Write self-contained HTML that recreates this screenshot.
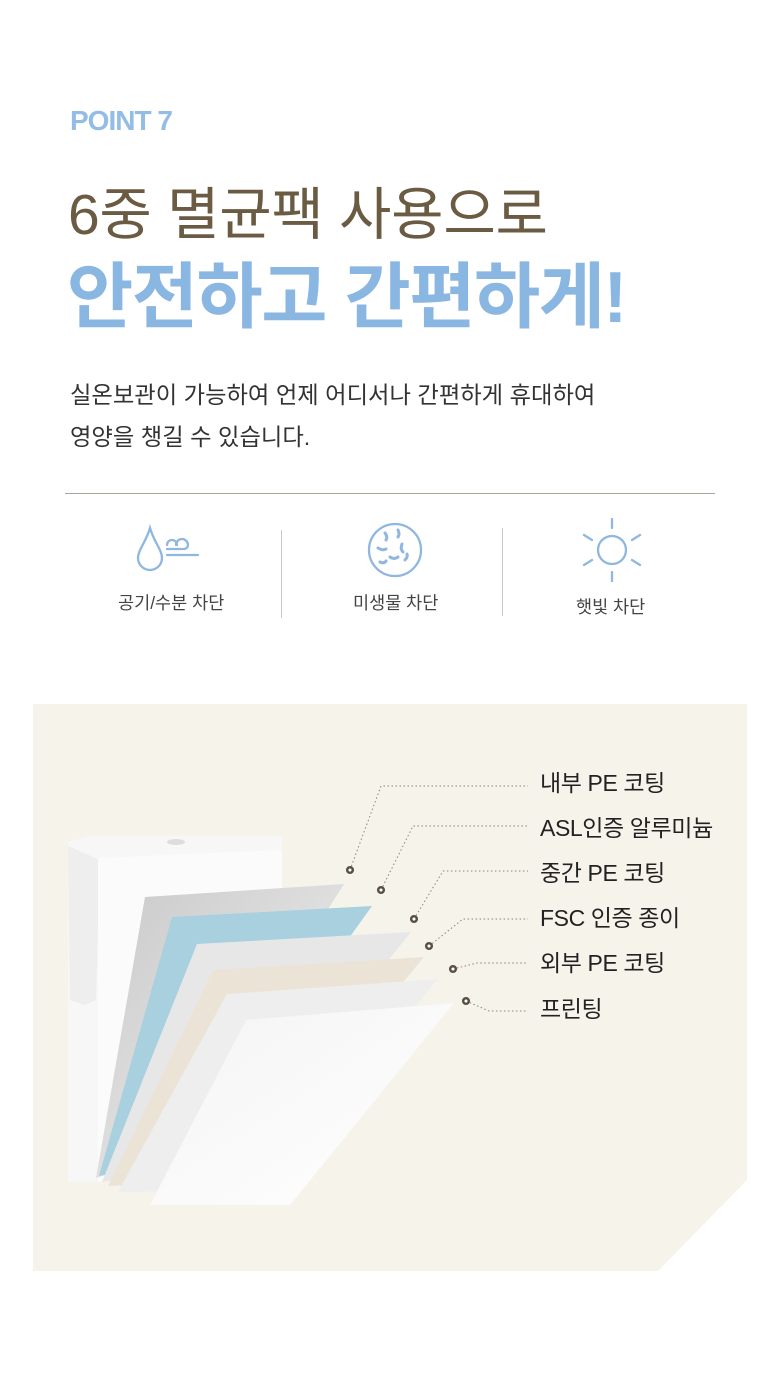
<!DOCTYPE html>
<html><head><meta charset="utf-8">
<style>
html,body{margin:0;padding:0;background:#fff;}
body{width:780px;height:1393px;position:relative;overflow:hidden;font-family:"Liberation Sans","Noto Sans CJK KR",sans-serif;}
.t{position:absolute;white-space:nowrap;}
</style></head><body>
<div class="t" style="left:70px;top:104px;font-size:28px;font-weight:bold;color:#93bde6;letter-spacing:-1px;line-height:34px;">POINT 7</div>
<div class="t" style="left:68px;top:181px;font-size:57px;color:#6b5b42;line-height:68px;letter-spacing:-0.3px;">6중 멸균팩 사용으로</div>
<div class="t" style="left:67px;top:257px;font-size:72px;font-weight:bold;color:#8ab6e2;line-height:82px;letter-spacing:-1.5px;">안전하고 간편하게!</div>
<div class="t" style="left:70px;top:374px;font-size:23.3px;color:#333;line-height:42px;letter-spacing:0px;">실온보관이 가능하여 언제 어디서나 간편하게 휴대하여<br>영양을 챙길 수 있습니다.</div>
<div style="position:absolute;left:65px;top:493px;width:650px;height:1px;background:#a9a39a;"></div>
<div style="position:absolute;left:281px;top:530px;width:1px;height:88px;background:#c8c8c8;"></div>
<div style="position:absolute;left:502px;top:528px;width:1px;height:88px;background:#c8c8c8;"></div>
<svg style="position:absolute;left:0;top:500px" width="780" height="100" fill="none" stroke="#8fb7e0" stroke-width="2.3" stroke-linecap="round">
 <path d="M150 28 C146 42 138 50 138 58 a12 12 0 0 0 24 0 C162 50 154 42 150 28Z"/>
 <path d="M167 45 a5 5 0 1 1 10 0 M176 45 a6 6 0 1 1 12 0 a4 4 0 0 1 -4 4 H167 M167 55 H198"/>
 <circle cx="395" cy="50" r="26"/>
 <g stroke-width="3">
  <path d="M385 33 q3 4 1 7 M398 30 q2 4 0 7 M378 48 q5 3 8 1 M402 44 q-2 5 1 8 M390 57 q4 3 8 0 M380 62 q4 2 6 -1 M405 60 q3 -3 2 -6"/>
 </g>
 <circle cx="612" cy="50" r="14"/>
 <path d="M612 19 V28 M612 72 V81 M584 35 L592 40 M632 60 L640 65 M584 65 L592 60 M632 40 L640 35"/>
</svg>
<div class="t" style="left:118px;top:590px;font-size:17.5px;color:#444;">공기/수분 차단</div>
<div class="t" style="left:353px;top:590px;font-size:17.5px;color:#444;">미생물 차단</div>
<div class="t" style="left:576px;top:594px;font-size:17.5px;color:#444;">햇빛 차단</div>

<svg style="position:absolute;left:0;top:0" width="780" height="1393">
 <defs>
  <linearGradient id="sil" x1="0" y1="0" x2="1" y2="1"><stop offset="0" stop-color="#c9c9c9"/><stop offset="0.5" stop-color="#dedede"/><stop offset="1" stop-color="#b8b8b8"/></linearGradient>
  <linearGradient id="wh" x1="0" y1="0" x2="1" y2="1"><stop offset="0" stop-color="#f4f4f4"/><stop offset="1" stop-color="#ffffff"/></linearGradient>
 </defs>
 <polygon points="33,704 747,704 747,1180 658,1271 33,1271" fill="#f6f3eb"/>
 <polygon points="68,842 90,836 282,836 282,1178 68,1182" fill="#f7f7f7"/>
 <polygon points="68,846 100,860 96,1000 84,1005 70,1000" fill="#eeeeee"/>
 <polygon points="98,858 282,850 282,1178 98,1182" fill="#fbfbfb"/>
 <ellipse cx="176" cy="842" rx="9" ry="3" fill="#ddd"/>
 <polygon points="145,897 344,884 175,1150 96,1178" fill="url(#sil)"/>
 <polygon points="172,917 372,906 190,1160 99,1176" fill="#a8d0df"/>
 <polygon points="197,944 411,932 220,1170 102,1182" fill="#e7e7e7"/>
 <polygon points="213,970 424,957 240,1180 108,1186" fill="#ebe4d6"/>
 <polygon points="227,994 438,979 262,1190 118,1192" fill="#eeeeee"/>
 <polygon points="246,1020 454,1003 290,1205 150,1205" fill="url(#wh)"/>
 <g fill="none" stroke="#8d8577" stroke-width="1" stroke-dasharray="1.5 2.5">
  <polyline points="350,870 381,786 528,786"/>
  <polyline points="381,890 413,826 528,826"/>
  <polyline points="414,919 443,871 528,871"/>
  <polyline points="429,946 463,919 528,919"/>
  <polyline points="453,969 477,963 528,963"/>
  <polyline points="466,1001 489,1011 528,1011"/>
 </g>
 <g fill="#fff" stroke="#5a4f45" stroke-width="2.5">
  <circle cx="350" cy="870" r="2.8"/><circle cx="381" cy="890" r="2.8"/><circle cx="414" cy="919" r="2.8"/>
  <circle cx="429" cy="946" r="2.8"/><circle cx="453" cy="969" r="2.8"/><circle cx="466" cy="1001" r="2.8"/>
 </g>
</svg>
<div class="t" style="left:540px;top:769px;font-size:23px;color:#222;line-height:28px;letter-spacing:-0.4px;">내부 PE 코팅</div>
<div class="t" style="left:540px;top:814px;font-size:23px;color:#222;line-height:28px;letter-spacing:-0.4px;">ASL인증 알루미늄</div>
<div class="t" style="left:540px;top:859px;font-size:23px;color:#222;line-height:28px;letter-spacing:-0.4px;">중간 PE 코팅</div>
<div class="t" style="left:540px;top:904px;font-size:23px;color:#222;line-height:28px;letter-spacing:-0.4px;">FSC 인증 종이</div>
<div class="t" style="left:540px;top:949px;font-size:23px;color:#222;line-height:28px;letter-spacing:-0.4px;">외부 PE 코팅</div>
<div class="t" style="left:540px;top:995px;font-size:23px;color:#222;line-height:28px;letter-spacing:-0.4px;">프린팅</div>
</body></html>
